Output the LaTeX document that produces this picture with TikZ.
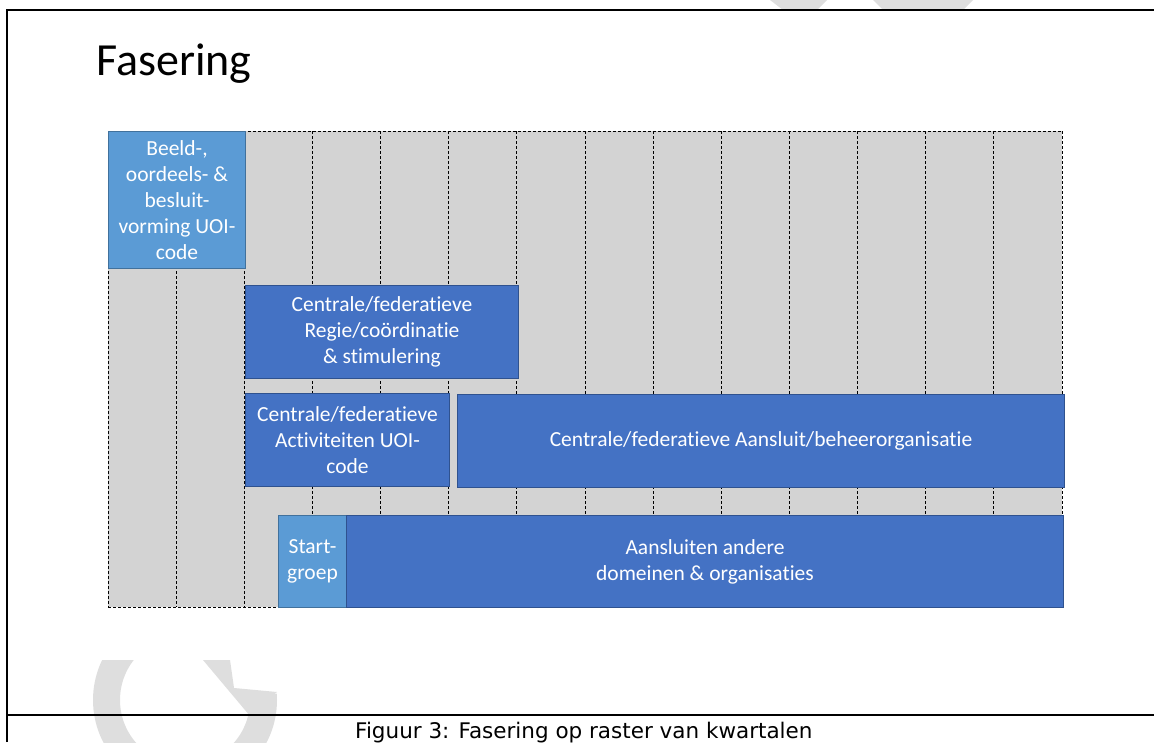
\documentclass[tikz,border=0pt]{standalone}
\usepackage{fontspec}
\setmainfont{Carlito}[Ligatures=NoCommon]
\newfontfamily\captionfont{DejaVu Sans}
\definecolor{cellgray}{HTML}{D3D3D3}
\definecolor{phaseblue}{HTML}{4472C4}
\definecolor{phaseline}{HTML}{2F528F}
\definecolor{startblue}{HTML}{5B9BD5}
\definecolor{startline}{HTML}{41719C}
\definecolor{watermark}{HTML}{DEDEDE}
\tikzset{
    phase/.style={rectangle, anchor=north west, inner sep=0pt, align=center,
        draw=phaseline, fill=phaseblue, text=white, line width=1pt,
        font=\fontsize{21.5}{26}\selectfont},
    startphase/.style={phase, draw=startline, fill=startblue},
    quarter/.style={line width=0.9pt, dash pattern=on 3pt off 2pt}
}

\begin{document}
\begin{tikzpicture}[x=1pt, y=-1pt]
  \useasboundingbox (0,0) rectangle (1154,742);

  \fill[watermark] (770,0) -- (827,0) -- (817,10) -- (783,10) -- cycle;
  \fill[watermark] (873,0) -- (973,0) -- (963,10) -- (883,10) -- cycle;
  \begin{scope}
    \clip (0,660) rectangle (1154,742);
    \fill[watermark, even odd rule] (185,700) circle (92) (185,700) circle (65);
    \fill[white] (185,700) -- (185,560) -- (330,560) -- (330,690) -- cycle;
    \fill[watermark] (203,660) -- (230,660) -- (234,688) -- (277,692) -- (250,716) -- cycle;
  \end{scope}

  \draw[line width=2pt] (7,742) -- (7,10) -- (1154,10);
  \draw[line width=2pt] (7,715) -- (1154,715);

  \node (title) [anchor=base west, inner sep=0pt, font=\fontsize{46}{55}\selectfont] at (96,75) {Fasering};

  \fill[cellgray] (108,131) rectangle (1062,607);
  \foreach \q in {0,...,14}
    \draw[quarter] ({108+68.143*\q},131) -- ({108+68.143*\q},607);
  \draw[quarter] (108,131) -- (1062,131);
  \draw[quarter] (108,607) -- (1062,607);

  \node (beeld) [startphase, minimum width=137, minimum height=137] at (108,131)
    {Beeld-,\\oordeels- \&\\besluit-\\vorming UOI-\\code};
  \node (regie) [phase, minimum width=273, minimum height=93] at (245,285)
    {Centrale/federatieve\\Regie/co\"ordinatie\\\& stimulering};
  \node (activiteiten) [phase, minimum width=204, minimum height=93] at (245,393)
    {Centrale/federatieve\\Activiteiten UOI-\\code};
  \node (beheer) [phase, minimum width=607, minimum height=93] at (457,394)
    {Centrale/federatieve Aansluit/beheerorganisatie};
  \node (startgroep) [startphase, minimum width=68, minimum height=92] at (278,515)
    {Start-\\groep};
  \node (aansluiten) [phase, minimum width=717, minimum height=92] at (346,515)
    {Aansluiten andere\\domeinen \& organisaties};

  \node (caption) [anchor=base west, inner sep=0pt, font=\captionfont\fontsize{21.5}{25}\selectfont] at (355,738)
    {Figuur 3: Fasering op raster van kwartalen};
\end{tikzpicture}
\end{document}
